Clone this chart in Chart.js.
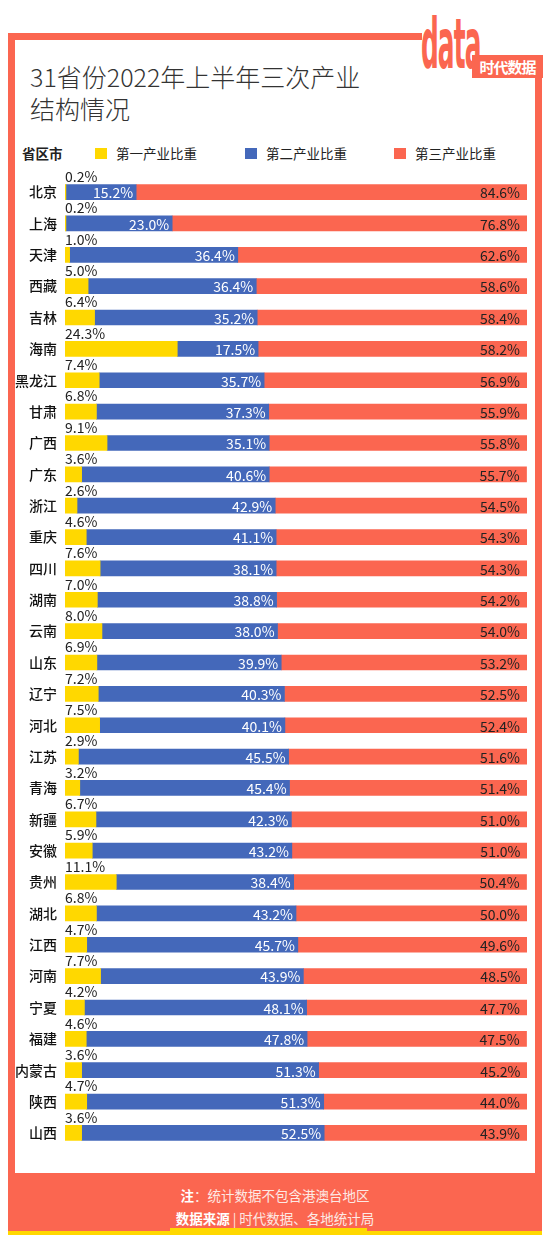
<!DOCTYPE html>
<html>
<head>
<meta charset="utf-8">
<script src="https://cdn.jsdelivr.net/npm/chart.js@4.4.0/dist/chart.umd.min.js"></script>
<style>
  body{margin:0;width:550px;height:1239px;background:#fff;position:relative;overflow:hidden;font-family:"Noto Sans CJK SC","Noto Sans",sans-serif;}
  .frame{position:absolute;left:8px;top:33px;width:534px;height:1198px;background:#FB6650;}
  .inner{position:absolute;left:15px;top:40px;width:520px;height:1133px;background:#fff;}
  .yline{position:absolute;left:8px;top:1231px;width:534px;height:4px;background:#FFD800;}
  .ybar{position:absolute;left:170px;top:1228px;width:197px;height:4px;background:#FFD800;}
  .logoCover{position:absolute;left:422px;top:0;width:128px;height:78px;background:#fff;}
  .logoData{position:absolute;left:421px;top:8px;font:bold 30px "DejaVu Sans Condensed",sans-serif;color:#FB6650;letter-spacing:-1px;transform:scale(0.92,2.3);transform-origin:0 0;line-height:32px;}
  .logoBox{position:absolute;left:472px;top:55px;width:71px;height:23px;background:#FB6650;color:#fff;font:bold 15px "Noto Sans CJK SC";line-height:23px;text-align:center;letter-spacing:-1px;}
  .title{position:absolute;left:30px;top:60px;font-size:25px;font-weight:300;line-height:32px;color:#333;}
  .legend{position:absolute;top:144px;left:0;height:18px;font-size:13.5px;color:#222;}
  .legend span{position:absolute;white-space:nowrap;line-height:18px;}
  .legend i{position:absolute;top:4px;width:12px;height:11px;}
  .foot{position:absolute;left:0;width:550px;text-align:center;color:#fde9e4;font-size:13.5px;line-height:20px;}
  .foot b{color:#fff;}
  #wrap{position:absolute;left:0;top:160px;width:550px;height:1005px;}
</style>
</head>
<body>
<div class="frame"></div>
<div class="inner"></div>
<div class="yline"></div>
<div class="ybar"></div>
<div class="logoCover"></div>
<div class="logoData">data</div>
<div class="logoBox">时代数据</div>
<div class="title">31省份2022年上半年三次产业<br>结构情况</div>
<div class="legend" id="legend"><span style="left:22px;font-weight:bold;">省区市</span></div>
<div id="wrap"><canvas id="chart"></canvas></div>
<div class="foot" style="top:1185px;"><b>注</b>：统计数据不包含港澳台地区</div>
<div class="foot" style="top:1208px;"><b>数据来源</b> | 时代数据、各地统计局</div>

<script>
const provinces = ['北京','上海','天津','西藏','吉林','海南','黑龙江','甘肃','广西','广东','浙江','重庆','四川','湖南','云南','山东','辽宁','河北','江苏','青海','新疆','安徽','贵州','湖北','江西','河南','宁夏','福建','内蒙古','陕西','山西'];
const primary   = [0.2,0.2,1.0,5.0,6.4,24.3,7.4,6.8,9.1,3.6,2.6,4.6,7.6,7.0,8.0,6.9,7.2,7.5,2.9,3.2,6.7,5.9,11.1,6.8,4.7,7.7,4.2,4.6,3.6,4.7,3.6];
const secondary = [15.2,23.0,36.4,36.4,35.2,17.5,35.7,37.3,35.1,40.6,42.9,41.1,38.1,38.8,38.0,39.9,40.3,40.1,45.5,45.4,42.3,43.2,38.4,43.2,45.7,43.9,48.1,47.8,51.3,51.3,52.5];
const tertiary  = [84.6,76.8,62.6,58.6,58.4,58.2,56.9,55.9,55.8,55.7,54.5,54.3,54.3,54.2,54.0,53.2,52.5,52.4,51.6,51.4,51.0,51.0,50.4,50.0,49.6,48.5,47.7,47.5,45.2,44.0,43.9];
const seriesNames  = ['第一产业比重','第二产业比重','第三产业比重'];
const seriesColors = ['#FFD800','#4468BA','#FB6650'];

// legend (html)
const legendPos = [[95,116],[245,266],[394,415]];
const legendEl = document.getElementById('legend');
seriesNames.forEach((n,i)=>{
  legendEl.insertAdjacentHTML('beforeend',
    `<i style="left:${legendPos[i][0]}px;background:${seriesColors[i]}"></i><span style="left:${legendPos[i][1]}px">${n}</span>`);
});

const segLabels = {
  id:'segLabels',
  afterDatasetsDraw(chart){
    const ctx = chart.ctx;
    ctx.save();
    ctx.font = '14px "Noto Sans CJK SC"';
    chart.data.datasets.forEach((ds,i)=>{
      chart.getDatasetMeta(i).data.forEach((bar,j)=>{
        const txt = ds.data[j].toFixed(1)+'%';
        const left = Math.min(bar.base,bar.x), right = Math.max(bar.base,bar.x);
        if(i===0){
          ctx.fillStyle='#222'; ctx.textAlign='left'; ctx.textBaseline='bottom';
          ctx.fillText(txt,left,bar.y-bar.height/2-1);
        }else if(i===1){
          ctx.fillStyle='#fff'; ctx.textAlign='right'; ctx.textBaseline='middle';
          ctx.fillText(txt,right-3,bar.y+1);
        }else{
          ctx.fillStyle='#222'; ctx.textAlign='right'; ctx.textBaseline='middle';
          ctx.fillText(txt,right-7,bar.y+1);
        }
      });
    });
    ctx.restore();
  }
};

new Chart(document.getElementById('chart'),{
  type:'bar',
  data:{
    labels:provinces,
    datasets:[primary,secondary,tertiary].map((d,i)=>({
      label:seriesNames[i],
      data:d,
      backgroundColor:seriesColors[i],
      barThickness:15,
      borderWidth:0
    }))
  },
  options:{
    indexAxis:'y',
    responsive:true,
    maintainAspectRatio:false,
    animation:false,
    layout:{padding:{top:12.6,bottom:8,left:0,right:23}},
    plugins:{legend:{display:false},tooltip:{enabled:false}},
    scales:{
      x:{stacked:true,display:false,min:0,max:100},
      y:{
        stacked:true,
        grid:{display:false,drawTicks:false},
        border:{display:false},
        ticks:{color:'#111',padding:8,font:{family:'"Noto Sans CJK SC"',size:14,weight:500}},
        afterFit(scale){ scale.width = 65; }
      }
    }
  },
  plugins:[segLabels]
});
</script>
</body>
</html>
